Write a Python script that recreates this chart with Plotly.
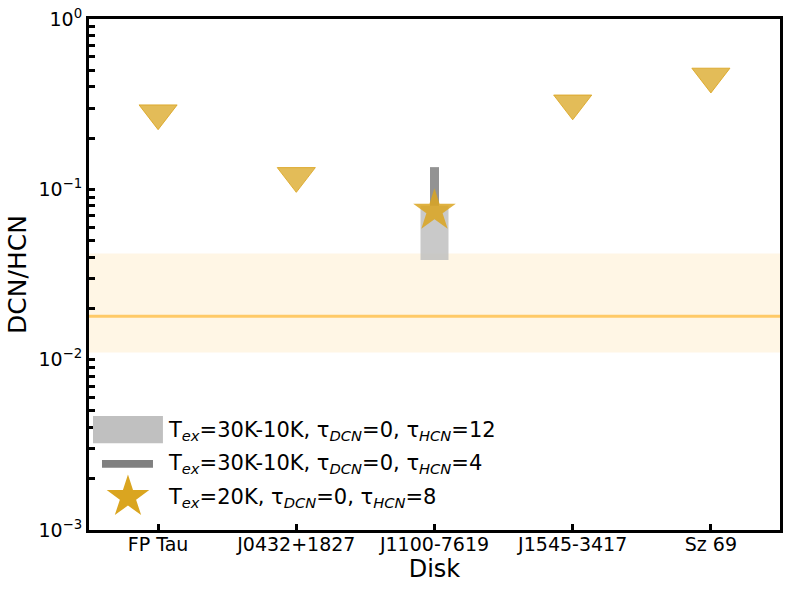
import plotly.graph_objects as go

# ---- data ----
disks = ["FP Tau", "J0432+1827", "J1100-7619", "J1545-3417", "Sz 69"]
upper_limit_disks = ["FP Tau", "J0432+1827", "J1545-3417", "Sz 69"]
upper_limits = [0.28, 0.12, 0.32, 0.46]

detected_disk = "J1100-7619"
range_tau12 = [0.0385, 0.08]     # Tex=30K-10K, tau_HCN=12
range_tau4 = [0.08, 0.135]       # Tex=30K-10K, tau_HCN=4
star_value = 0.075               # Tex=20K, tau_HCN=8

band_low, band_high = 0.011, 0.042
band_mid = 0.018

y_tickvals = [1e-3, 1e-2, 1e-1, 1e0]
y_ticktext = ["10<sup>−3</sup>", "10<sup>−2</sup>", "10<sup>−1</sup>", "10<sup>0</sup>"]

legend_labels = [
    "T<sub><i>ex</i></sub>=30K-10K, τ<sub><i>DCN</i></sub>=0, τ<sub><i>HCN</i></sub>=12",
    "T<sub><i>ex</i></sub>=30K-10K, τ<sub><i>DCN</i></sub>=0, τ<sub><i>HCN</i></sub>=4",
    "T<sub><i>ex</i></sub>=20K, τ<sub><i>DCN</i></sub>=0, τ<sub><i>HCN</i></sub>=8",
]

FONT = "DejaVu Sans"
GOLD = "rgba(218,165,32,0.75)"
LIGHT = "rgba(192,192,192,0.85)"
DARK = "rgba(128,128,128,0.85)"

minor_vals = []
for e in [1e-3, 1e-2, 1e-1]:
    for m in range(2, 10):
        minor_vals.append(m * e)

fig = go.Figure()

# light gray range bar
fig.add_trace(go.Scatter(
    x=[detected_disk, detected_disk], y=range_tau12, mode="lines",
    line=dict(color=LIGHT, width=28), showlegend=False, hoverinfo="skip"))
# dark gray range bar
fig.add_trace(go.Scatter(
    x=[detected_disk, detected_disk], y=range_tau4, mode="lines",
    line=dict(color=DARK, width=9), showlegend=False, hoverinfo="skip"))
# star
fig.add_trace(go.Scatter(
    x=[detected_disk], y=[star_value], mode="markers",
    marker=dict(symbol="star", size=32, color="rgba(218,165,32,0.85)",
                line=dict(width=0)),
    showlegend=False))
# upper limits
fig.add_trace(go.Scatter(
    x=upper_limit_disks, y=upper_limits, mode="markers",
    marker=dict(symbol="triangle-down", size=33, color=GOLD,
                line=dict(color="rgba(218,165,32,0.85)", width=1)),
    showlegend=False))

# legend star on overlay axes
fig.add_trace(go.Scatter(
    x=[0.0564], y=[0.0646], mode="markers", xaxis="x2", yaxis="y2",
    marker=dict(symbol="star", size=32, color="#DAA520", line=dict(width=0)),
    showlegend=False, hoverinfo="skip"))

shapes = [
    dict(type="rect", xref="paper", yref="y", x0=0, x1=1, y0=band_low, y1=band_high,
         fillcolor="rgba(255,165,0,0.1)", line=dict(width=0), layer="below"),
    dict(type="line", xref="paper", yref="y", x0=0, x1=1, y0=band_mid, y1=band_mid,
         line=dict(color="rgba(255,165,0,0.55)", width=3), layer="below"),
    # legend handles
    dict(type="rect", xref="paper", yref="paper", x0=0.0058, x1=0.107, y0=0.170, y1=0.223,
         fillcolor="#C0C0C0", line=dict(width=0)),
    dict(type="rect", xref="paper", yref="paper", x0=0.0188, x1=0.0926, y0=0.122, y1=0.137,
         fillcolor="#808080", line=dict(width=0)),
]

annotations = []
for lab, yy in zip(legend_labels, [0.1937, 0.129, 0.0626]):
    annotations.append(dict(text=lab, xref="paper", yref="paper", x=0.1114, y=yy,
                            xanchor="left", yanchor="middle", showarrow=False,
                            font=dict(family=FONT, size=21, color="black")))

fig.update_layout(
    width=790, height=590,
    margin=dict(l=89, r=10, t=19, b=60, autoexpand=False),
    paper_bgcolor="white", plot_bgcolor="white",
    font=dict(family=FONT, size=19, color="black"),
    shapes=shapes, annotations=annotations,
    xaxis=dict(
        type="category", categoryorder="array", categoryarray=disks,
        range=[-0.5, 4.5], showgrid=False, zeroline=False, automargin=False,
        showline=True, linewidth=3, linecolor="black", mirror=True,
        ticks="inside", ticklen=6, tickwidth=3, tickcolor="black",
        ticklabelstandoff=-5,
        tickfont=dict(family=FONT, size=19),
        title=dict(text="Disk", font=dict(family=FONT, size=24), standoff=0),
    ),
    yaxis=dict(
        type="log", range=[-3, 0], showgrid=False, zeroline=False, automargin=False,
        showline=True, linewidth=3, linecolor="black", mirror=True,
        tickmode="array", tickvals=y_tickvals, ticktext=y_ticktext,
        ticks="inside", ticklen=6, tickwidth=3, tickcolor="black",
        tickfont=dict(family=FONT, size=19),
        minor=dict(tickmode="array", tickvals=minor_vals, ticks="inside",
                   ticklen=6, tickwidth=3, tickcolor="black", showgrid=False),
        title=dict(text="DCN/HCN", font=dict(family=FONT, size=25), standoff=5),
    ),
    xaxis2=dict(overlaying="x", range=[0, 1], visible=False),
    yaxis2=dict(overlaying="y", range=[0, 1], visible=False),
)

fig.write_html("out.html", config={"displayModeBar": False},
               post_script="document.body.style.margin='0';")
